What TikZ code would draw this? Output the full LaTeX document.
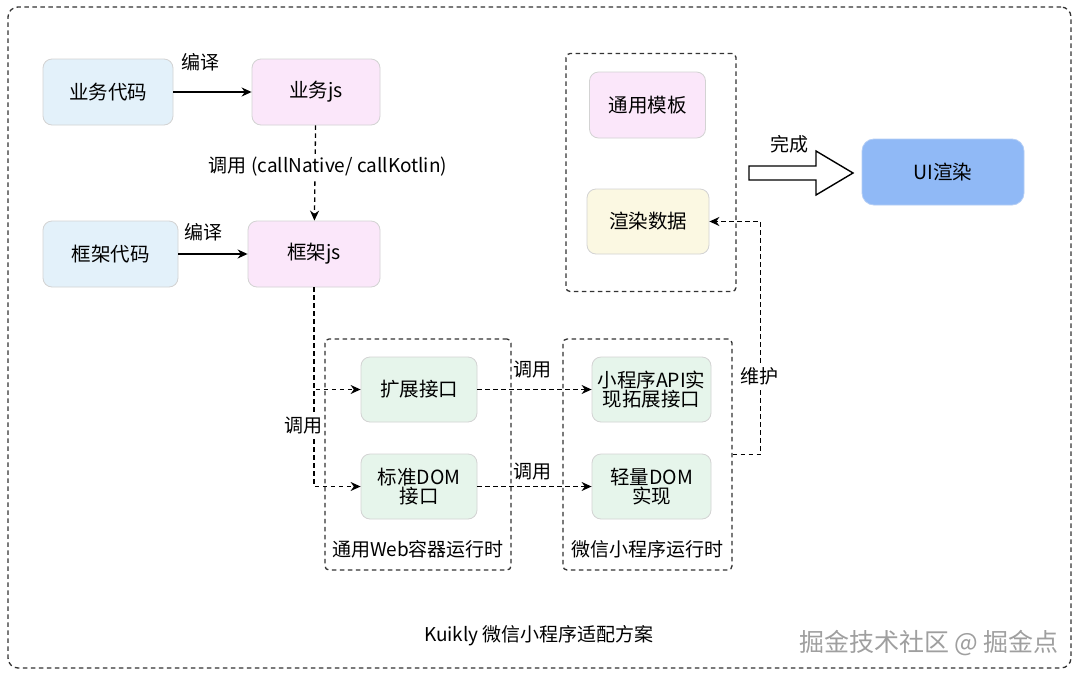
\documentclass[tikz,border=0pt]{standalone}
\usepackage{fontspec}
\setmainfont{Noto Sans CJK SC}
\usetikzlibrary{arrows.meta}
\definecolor{bluebg}{HTML}{E3F1FA}
\definecolor{pinkbg}{HTML}{FBE7FA}
\definecolor{greenbg}{HTML}{E6F5EB}
\definecolor{creambg}{HTML}{FBF8E2}
\definecolor{uiblue}{HTML}{90B9F6}
\definecolor{uiline}{HTML}{B3CDF5}
\definecolor{boxline}{HTML}{D3D3D3}
\definecolor{dashline}{HTML}{333333}
\tikzset{
  box/.style={draw=boxline, line width=0.8pt, rounded corners=9pt, align=center,
    font=\fontsize{19.5}{23}\selectfont, inner sep=2pt},
  grp/.style={draw=dashline, line width=1.3pt, dash pattern=on 4.5pt off 3.5pt, rounded corners=4pt},
  lbl/.style={font=\fontsize{19}{22}\selectfont, inner sep=1pt},
  sarr/.style={draw=black, line width=1.4pt, -{Stealth[length=10pt,width=9pt]}},
  darr/.style={draw=black, line width=1.3pt, dash pattern=on 4.5pt off 3.5pt, -{Stealth[length=10pt,width=9pt]}},
}
\begin{document}
\begin{tikzpicture}[x=1pt,y=-1pt]
\useasboundingbox (0,0) rectangle (1080,678);
\fill[white] (0,0) rectangle (1080,678);
% outer frame
\node[grp, rounded corners=10pt, minimum width=1063, minimum height=661] (frame) at (539.5,337.5) {};
% group boxes
\node[grp, minimum width=186, minimum height=231] (web) at (418,454.5) {};
\node[grp, minimum width=169, minimum height=231] (mini) at (647.5,454.5) {};
\node[grp, minimum width=170, minimum height=238] (tpl) at (651,172.5) {};
% left boxes
\node[box, fill=bluebg, minimum width=130, minimum height=66] (bcode) at (108,92) {业务代码};
\node[box, fill=pinkbg, minimum width=128, minimum height=66] (bjs) at (316,92) {业务js};
\node[box, fill=bluebg, minimum width=135, minimum height=66] (kcode) at (110.5,254) {框架代码};
\node[box, fill=pinkbg, minimum width=132, minimum height=66] (kjs) at (314,254) {框架js};
% web runtime
\node[box, fill=greenbg, minimum width=116, minimum height=65] (ext) at (419,389.5) {扩展接口};
\node[box, fill=greenbg, minimum width=116, minimum height=65] (dom) at (419,486.5) {标准DOM\\[-4pt]接口};
\node[lbl] (weblbl) at (418,549) {通用Web容器运行时};
% mini runtime
\node[box, fill=greenbg, minimum width=119, minimum height=65] (api) at (651.5,389.5) {小程序API实\\[-4pt]现拓展接口};
\node[box, fill=greenbg, minimum width=119, minimum height=65] (ldom) at (651.5,486.5) {轻量DOM\\[-4pt]实现};
\node[lbl] (minilbl) at (647,549) {微信小程序运行时};
% template group
\node[box, fill=pinkbg, minimum width=116, minimum height=66] (gtpl) at (647.5,105) {通用模板};
\node[box, fill=creambg, minimum width=122, minimum height=65] (rdata) at (648,221.5) {渲染数据};
% UI
\node[box, fill=uiblue, draw=uiline, rounded corners=12pt, minimum width=162, minimum height=66] (ui) at (943,172) {UI渲染};
% connectors
\draw[sarr] (bcode) -- (bjs);
\node[lbl] (l1) at (200,62) {编译};
\draw[sarr] (kcode) -- (kjs);
\node[lbl] (l2) at (203,232) {编译};
\draw[darr] (bjs) -- (kjs);
\node[lbl, fill=white, inner sep=2pt] (l3) at (328,167) {调用 (callNative/ callKotlin)};
\draw[darr] (kjs.south) |- (ext.west);
\draw[darr] (kjs.south) |- (dom.west);
\node[lbl, fill=white, inner sep=2pt] (l4) at (303,426) {调用};
\draw[darr] (ext) -- (api);
\node[lbl] (l5) at (532,370) {调用};
\draw[darr] (dom) -- (ldom);
\node[lbl] (l6) at (532,472) {调用};
\draw[darr] (mini.east) -- ++(28,0) coordinate (mc) |- (rdata.east);
\node[lbl, fill=white, inner sep=2pt] (l7) at (759,376) {维护};
% big hollow arrow
\draw[line width=1.4pt, line join=miter] (749,166) -- (816,166) -- (816,151) -- (853,173) -- (816,195) -- (816,180) -- (749,180) -- cycle;
\node[lbl] (l8) at (789,144) {完成};
% title & watermark
\node[lbl] (title) at (539,636) {Kuikly 微信小程序适配方案};
\node[font=\fontsize{25}{28}\selectfont, text=gray!75] (wm) at (929,643) {掘金技术社区 @ 掘金点};
\end{tikzpicture}
\end{document}
